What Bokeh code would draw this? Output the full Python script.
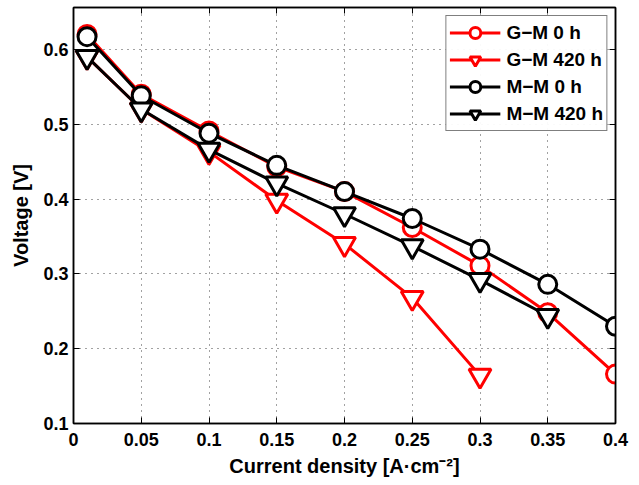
from bokeh.plotting import figure
from bokeh.models import (Range1d, FixedTicker, LinearAxis, Legend, LegendItem)
from bokeh.embed import file_html
from bokeh.resources import INLINE

x_full = [0.01, 0.05, 0.1, 0.15, 0.2, 0.25, 0.3, 0.35, 0.4]
gm_0h = [0.620, 0.540, 0.491, 0.443, 0.410, 0.362, 0.311, 0.248, 0.166]
x_gm420 = [0.01, 0.05, 0.1, 0.15, 0.2, 0.25, 0.3]
gm_420h = [0.590, 0.520, 0.463, 0.398, 0.340, 0.268, 0.164]
mm_0h = [0.617, 0.538, 0.488, 0.445, 0.410, 0.374, 0.333, 0.286, 0.230]
x_mm420 = [0.01, 0.05, 0.1, 0.15, 0.2, 0.25, 0.3, 0.35]
mm_420h = [0.590, 0.520, 0.466, 0.421, 0.380, 0.337, 0.292, 0.244]

x_ticks = [0, 0.05, 0.1, 0.15, 0.2, 0.25, 0.3, 0.35, 0.4]
x_tick_labels = ["0", "0.05", "0.1", "0.15", "0.2", "0.25", "0.3", "0.35", "0.4"]
y_ticks = [0.1, 0.2, 0.3, 0.4, 0.5, 0.6]
y_tick_labels = ["0.1", "0.2", "0.3", "0.4", "0.5", "0.6"]

FONT = "Liberation Sans"

p = figure(width=639, height=485, output_backend="svg", toolbar_location=None,
           x_range=Range1d(0, 0.4), y_range=Range1d(0.1, 0.656),
           min_border_left=73, min_border_right=24, min_border_top=7, min_border_bottom=62)
p.outline_line_color = "black"
p.outline_line_width = 1.5
p.background_fill_color = "white"
p.border_fill_color = "white"

def style_axis(ax, ticks, labels, show_labels=True):
    ax.ticker = FixedTicker(ticks=ticks)
    ax.major_label_overrides = {t: l for t, l in zip(ticks, labels)}
    ax.major_tick_in = 6
    ax.major_tick_out = 0
    ax.minor_tick_in = 0
    ax.minor_tick_out = 0
    ax.axis_line_color = "black"
    ax.axis_line_width = 1.5
    ax.major_tick_line_color = "black"
    ax.major_label_text_font = FONT
    ax.major_label_text_font_style = "bold"
    ax.major_label_text_font_size = "18px" if show_labels else "0px"
    ax.major_label_text_color = "black" if show_labels else None
    ax.axis_label_text_font = FONT
    ax.axis_label_text_font_style = "bold"
    ax.axis_label_text_font_size = "20px"
    ax.axis_label_text_color = "black"

style_axis(p.xaxis[0], x_ticks, x_tick_labels)
style_axis(p.yaxis[0], y_ticks, y_tick_labels)
p.xaxis[0].axis_label = "Current density [A·cm⁻²]"
p.yaxis[0].axis_label = "Voltage [V]"
p.xaxis[0].major_label_standoff = 9
p.xaxis[0].axis_label_standoff = 6
p.yaxis[0].major_label_standoff = 5
p.yaxis[0].axis_label_standoff = 8

top = LinearAxis()
style_axis(top, x_ticks, x_tick_labels, show_labels=False)
right = LinearAxis()
style_axis(right, y_ticks, y_tick_labels, show_labels=False)
p.add_layout(top, "above")
p.add_layout(right, "right")

for g in (p.xgrid[0], p.ygrid[0]):
    g.grid_line_color = "#444444"
    g.grid_line_dash = "1 5"
    g.grid_line_width = 1
p.xgrid[0].ticker = FixedTicker(ticks=x_ticks)
p.ygrid[0].ticker = FixedTicker(ticks=y_ticks)

LW = 3
series = [
    ("G\u2212M 0 h", x_full, gm_0h, "red", "circle", 18),
    ("G\u2212M 420 h", x_gm420, gm_420h, "red", "inverted_triangle", 22),
    ("M\u2212M 0 h", x_full, mm_0h, "black", "circle", 18),
    ("M\u2212M 420 h", x_mm420, mm_420h, "black", "inverted_triangle", 22),
]
items = []
for name, xs, ys, col, mk, sz in series:
    l = p.line(xs, ys, line_color=col, line_width=LW)
    s = p.scatter(xs, ys, marker=mk, size=sz, line_color=col, line_width=LW, fill_color="white")
    items.append(LegendItem(label=name, renderers=[l, s]))

legend = Legend(items=items, location="top_right")
legend.label_text_font = FONT
legend.label_text_font_style = "bold"
legend.label_text_font_size = "19px"
legend.label_text_color = "black"
legend.border_line_color = "black"
legend.border_line_width = 1.5
legend.glyph_width = 51
legend.glyph_height = 27
legend.label_height = 20
legend.spacing = 0
legend.padding = 3
legend.margin = 8
legend.label_standoff = 6
p.add_layout(legend)

open("out.html", "w").write(file_html(p, INLINE))
